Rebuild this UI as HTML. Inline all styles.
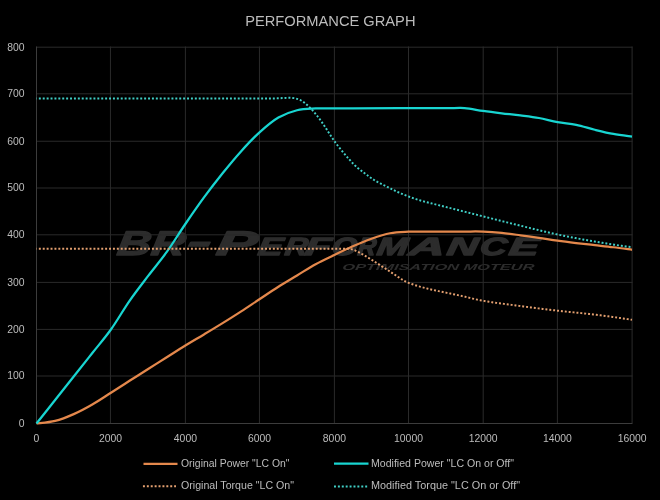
<!DOCTYPE html>
<html><head><meta charset="utf-8"><style>
html,body{margin:0;padding:0;background:#000;width:660px;height:500px;overflow:hidden}
svg{display:block;font-family:"Liberation Sans", sans-serif;will-change:transform}
</style></head><body>
<svg width="660" height="500" viewBox="0 0 660 500">
<rect width="660" height="500" fill="#000"/>
<text x="245.2" y="25.9" font-size="15.2" fill="#bcbcbc" textLength="170.3" lengthAdjust="spacingAndGlyphs">PERFORMANCE GRAPH</text>
<g fill="#2c2c2c" stroke="#2c2c2c" stroke-width="1.3" stroke-linejoin="round" font-weight="bold" font-style="italic" transform="translate(0,255.2) skewX(-8) translate(0,-255.2)">
<text x="116" y="255.2" font-size="34.3" textLength="34" lengthAdjust="spacingAndGlyphs">B</text>
<text x="150" y="255.2" font-size="34.3" textLength="34" lengthAdjust="spacingAndGlyphs">R</text>
<text x="186" y="253.3" font-size="34.3" textLength="24" lengthAdjust="spacingAndGlyphs">-</text>
<text x="215" y="255.2" font-size="34.3" textLength="41" lengthAdjust="spacingAndGlyphs">P</text>
<text x="257" y="255.2" font-size="25" textLength="25" lengthAdjust="spacingAndGlyphs">E</text>
<text x="284" y="255.2" font-size="25" textLength="23" lengthAdjust="spacingAndGlyphs">R</text>
<text x="304" y="255.2" font-size="25" textLength="26" lengthAdjust="spacingAndGlyphs">F</text>
<text x="331" y="255.2" font-size="25" textLength="25" lengthAdjust="spacingAndGlyphs">O</text>
<text x="357" y="255.2" font-size="25" textLength="18" lengthAdjust="spacingAndGlyphs">R</text>
<text x="376" y="255.2" font-size="25" textLength="31" lengthAdjust="spacingAndGlyphs">M</text>
<text x="408" y="255.2" font-size="25" textLength="36" lengthAdjust="spacingAndGlyphs">A</text>
<text x="446" y="255.2" font-size="25" textLength="31" lengthAdjust="spacingAndGlyphs">N</text>
<text x="479" y="255.2" font-size="25" textLength="27" lengthAdjust="spacingAndGlyphs">C</text>
<text x="508" y="255.2" font-size="25" textLength="30" lengthAdjust="spacingAndGlyphs">E</text>
<text x="344" y="269.8" font-size="8.6" stroke-width="0" textLength="192" lengthAdjust="spacingAndGlyphs">OPTIMISATION MOTEUR</text>
</g>
<line x1="36" x2="632.5" y1="376.00" y2="376.00" stroke="#2a2a2a" stroke-width="1"/>
<line x1="36" x2="632.5" y1="329.40" y2="329.40" stroke="#2a2a2a" stroke-width="1"/>
<line x1="36" x2="632.5" y1="282.40" y2="282.40" stroke="#2a2a2a" stroke-width="1"/>
<line x1="36" x2="632.5" y1="234.80" y2="234.80" stroke="#2a2a2a" stroke-width="1"/>
<line x1="36" x2="632.5" y1="188.00" y2="188.00" stroke="#2a2a2a" stroke-width="1"/>
<line x1="36" x2="632.5" y1="141.25" y2="141.25" stroke="#2a2a2a" stroke-width="1"/>
<line x1="36" x2="632.5" y1="93.80" y2="93.80" stroke="#2a2a2a" stroke-width="1"/>
<line x1="36" x2="632.5" y1="47.20" y2="47.20" stroke="#2a2a2a" stroke-width="1"/>
<line x1="110.45" x2="110.45" y1="46.5" y2="423" stroke="#2a2a2a" stroke-width="1"/>
<line x1="185.40" x2="185.40" y1="46.5" y2="423" stroke="#2a2a2a" stroke-width="1"/>
<line x1="259.44" x2="259.44" y1="46.5" y2="423" stroke="#2a2a2a" stroke-width="1"/>
<line x1="334.40" x2="334.40" y1="46.5" y2="423" stroke="#2a2a2a" stroke-width="1"/>
<line x1="408.50" x2="408.50" y1="46.5" y2="423" stroke="#2a2a2a" stroke-width="1"/>
<line x1="483.20" x2="483.20" y1="46.5" y2="423" stroke="#2a2a2a" stroke-width="1"/>
<line x1="557.40" x2="557.40" y1="46.5" y2="423" stroke="#2a2a2a" stroke-width="1"/>
<line x1="632.10" x2="632.10" y1="46.5" y2="423" stroke="#2a2a2a" stroke-width="1"/>
<line x1="36.5" x2="36.5" y1="46.5" y2="424" stroke="#3c3c3c" stroke-width="1"/>
<line x1="36" x2="632.5" y1="423.5" y2="423.5" stroke="#3c3c3c" stroke-width="1"/>
<text x="24.5" y="426.80" text-anchor="end" font-size="10.4" fill="#bcbcbc">0</text>
<text x="24.5" y="379.40" text-anchor="end" font-size="10.4" fill="#bcbcbc">100</text>
<text x="24.5" y="332.80" text-anchor="end" font-size="10.4" fill="#bcbcbc">200</text>
<text x="24.5" y="285.80" text-anchor="end" font-size="10.4" fill="#bcbcbc">300</text>
<text x="24.5" y="238.20" text-anchor="end" font-size="10.4" fill="#bcbcbc">400</text>
<text x="24.5" y="191.40" text-anchor="end" font-size="10.4" fill="#bcbcbc">500</text>
<text x="24.5" y="144.65" text-anchor="end" font-size="10.4" fill="#bcbcbc">600</text>
<text x="24.5" y="97.20" text-anchor="end" font-size="10.4" fill="#bcbcbc">700</text>
<text x="24.5" y="50.60" text-anchor="end" font-size="10.4" fill="#bcbcbc">800</text>
<text x="36.50" y="442" text-anchor="middle" font-size="10.4" fill="#bcbcbc">0</text>
<text x="110.45" y="442" text-anchor="middle" font-size="10.4" fill="#bcbcbc">2000</text>
<text x="185.40" y="442" text-anchor="middle" font-size="10.4" fill="#bcbcbc">4000</text>
<text x="259.44" y="442" text-anchor="middle" font-size="10.4" fill="#bcbcbc">6000</text>
<text x="334.40" y="442" text-anchor="middle" font-size="10.4" fill="#bcbcbc">8000</text>
<text x="408.50" y="442" text-anchor="middle" font-size="10.4" fill="#bcbcbc">10000</text>
<text x="483.20" y="442" text-anchor="middle" font-size="10.4" fill="#bcbcbc">12000</text>
<text x="557.40" y="442" text-anchor="middle" font-size="10.4" fill="#bcbcbc">14000</text>
<text x="632.10" y="442" text-anchor="middle" font-size="10.4" fill="#bcbcbc">16000</text>
<path d="M36.50,423.50 C39.60,423.07 48.91,422.48 55.11,420.92 C61.31,419.35 67.52,416.84 73.72,414.10 C79.92,411.36 86.12,408.03 92.33,404.46 C98.53,400.90 104.73,396.66 110.94,392.72 C117.14,388.77 123.34,384.78 129.55,380.82 C135.75,376.87 141.95,372.91 148.16,368.98 C154.36,365.05 160.56,361.15 166.77,357.23 C172.97,353.31 179.17,349.28 185.38,345.48 C191.58,341.68 197.78,338.16 203.98,334.44 C210.19,330.71 216.39,326.99 222.59,323.15 C228.80,319.32 235.00,315.44 241.20,311.40 C247.41,307.37 253.61,303.06 259.81,298.95 C266.02,294.84 272.22,290.65 278.42,286.73 C284.62,282.81 290.83,279.21 297.03,275.45 C303.23,271.69 309.44,267.58 315.64,264.17 C321.84,260.76 328.05,257.98 334.25,255.00 C340.45,252.03 346.66,249.03 352.86,246.31 C359.06,243.59 365.27,240.87 371.47,238.70 C377.67,236.52 383.88,234.40 390.08,233.24 C396.28,232.08 402.48,232.03 408.69,231.74 C414.89,231.45 421.09,231.54 427.30,231.51 C433.50,231.47 439.70,231.54 445.91,231.55 C452.11,231.56 458.31,231.54 464.52,231.55 C470.72,231.56 476.92,231.37 483.12,231.60 C489.33,231.83 495.53,232.30 501.73,232.92 C507.94,233.53 514.14,234.44 520.34,235.27 C526.55,236.09 532.75,236.95 538.95,237.85 C545.16,238.75 551.36,239.81 557.56,240.67 C563.77,241.53 569.97,242.28 576.17,243.02 C582.38,243.76 588.58,244.43 594.78,245.14 C600.98,245.84 607.19,246.47 613.39,247.25 C619.59,248.03 628.90,249.37 632.00,249.79" fill="none" stroke="#e4884c" stroke-width="2.25" stroke-linejoin="round"/>
<path d="M36.50,423.50 C39.60,419.58 48.91,407.83 55.11,400.00 C61.31,392.17 67.52,384.33 73.72,376.50 C79.92,368.67 86.12,360.83 92.33,353.00 C98.53,345.17 104.73,338.19 110.94,329.50 C117.14,320.81 123.34,309.76 129.55,300.83 C135.75,291.90 141.95,284.07 148.16,275.92 C154.36,267.77 160.56,260.61 166.77,251.95 C172.97,243.29 179.17,233.07 185.38,223.99 C191.58,214.90 197.78,205.89 203.98,197.43 C210.19,188.97 216.39,180.94 222.59,173.23 C228.80,165.51 235.00,157.99 241.20,151.13 C247.41,144.28 253.61,137.70 259.81,132.10 C266.02,126.50 272.22,121.17 278.42,117.53 C284.62,113.89 290.83,111.76 297.03,110.25 C303.23,108.73 309.44,108.78 315.64,108.46 C321.84,108.14 328.05,108.35 334.25,108.32 C340.45,108.29 334.25,108.30 352.86,108.27 C371.47,108.24 427.30,108.15 445.91,108.13 C464.52,108.11 458.31,107.66 464.52,108.13 C470.72,108.60 476.92,110.09 483.12,110.95 C489.33,111.81 495.53,112.56 501.73,113.30 C507.94,114.04 514.14,114.63 520.34,115.42 C526.55,116.20 532.75,116.86 538.95,118.00 C545.16,119.14 551.36,121.09 557.56,122.23 C563.77,123.37 569.97,123.56 576.17,124.81 C582.38,126.07 588.58,128.22 594.78,129.75 C600.98,131.28 607.19,132.84 613.39,133.98 C619.59,135.12 628.90,136.13 632.00,136.56" fill="none" stroke="#18d5d1" stroke-width="2.25" stroke-linejoin="round"/>
<path d="M36.50,248.66 L37.99,248.66 L39.48,248.66 L40.97,248.66 L42.45,248.66 L43.94,248.66 L45.43,248.66 L46.92,248.66 L48.41,248.66 L49.90,248.66 L51.39,248.66 L52.88,248.66 L54.36,248.66 L55.85,248.66 L57.34,248.66 L58.83,248.66 L60.32,248.66 L61.81,248.66 L63.30,248.66 L64.79,248.66 L66.28,248.66 L67.76,248.66 L69.25,248.66 L70.74,248.66 L72.23,248.66 L73.72,248.66 L75.21,248.66 L76.70,248.66 L78.19,248.66 L79.67,248.66 L81.16,248.66 L82.65,248.66 L84.14,248.66 L85.63,248.66 L87.12,248.66 L88.61,248.66 L90.09,248.66 L91.58,248.66 L93.07,248.66 L94.56,248.66 L96.05,248.66 L97.54,248.66 L99.03,248.66 L100.52,248.66 L102.00,248.66 L103.49,248.66 L104.98,248.66 L106.47,248.66 L107.96,248.66 L109.45,248.66 L110.94,248.66 L112.43,248.66 L113.92,248.66 L115.40,248.66 L116.89,248.66 L118.38,248.66 L119.87,248.66 L121.36,248.66 L122.85,248.66 L124.34,248.66 L125.83,248.66 L127.31,248.66 L128.80,248.66 L130.29,248.66 L131.78,248.66 L133.27,248.66 L134.76,248.66 L136.25,248.66 L137.74,248.66 L139.22,248.66 L140.71,248.66 L142.20,248.66 L143.69,248.66 L145.18,248.66 L146.67,248.66 L148.16,248.66 L149.64,248.66 L151.13,248.66 L152.62,248.66 L154.11,248.66 L155.60,248.66 L157.09,248.66 L158.58,248.66 L160.07,248.66 L161.56,248.66 L163.04,248.66 L164.53,248.66 L166.02,248.66 L167.51,248.66 L169.00,248.66 L170.49,248.66 L171.98,248.66 L173.47,248.66 L174.95,248.66 L176.44,248.66 L177.93,248.66 L179.42,248.66 L180.91,248.66 L182.40,248.66 L183.89,248.66 L185.38,248.66 L186.86,248.66 L188.35,248.66 L189.84,248.66 L191.33,248.66 L192.82,248.66 L194.31,248.66 L195.80,248.66 L197.28,248.66 L198.77,248.66 L200.26,248.66 L201.75,248.66 L203.24,248.66 L204.73,248.66 L206.22,248.66 L207.71,248.66 L209.19,248.66 L210.68,248.66 L212.17,248.66 L213.66,248.66 L215.15,248.66 L216.64,248.66 L218.13,248.66 L219.62,248.66 L221.10,248.66 L222.59,248.66 L224.08,248.66 L225.57,248.66 L227.06,248.66 L228.55,248.66 L230.04,248.66 L231.53,248.66 L233.01,248.66 L234.50,248.66 L235.99,248.66 L237.48,248.66 L238.97,248.66 L240.46,248.66 L241.95,248.66 L243.44,248.66 L244.93,248.66 L246.41,248.66 L247.90,248.66 L249.39,248.66 L250.88,248.66 L252.37,248.66 L253.86,248.66 L255.35,248.66 L256.84,248.66 L258.32,248.66 L259.81,248.66 L261.30,248.66 L262.79,248.66 L264.28,248.66 L265.77,248.66 L267.26,248.66 L268.75,248.66 L270.23,248.66 L271.72,248.66 L273.21,248.66 L274.70,248.66 L276.19,248.66 L277.68,248.66 L279.17,248.66 L280.65,248.66 L282.14,248.66 L283.63,248.66 L285.12,248.66 L286.61,248.66 L288.10,248.66 L289.59,248.66 L291.08,248.66 L292.56,248.66 L294.05,248.66 L295.54,248.66 L297.03,248.66 L298.52,248.66 L300.01,248.66 L301.50,248.66 L302.99,248.66 L304.48,248.66 L305.96,248.66 L307.45,248.66 L308.94,248.66 L310.43,248.66 L311.92,248.66 L313.41,248.66 L314.90,248.66 L316.38,248.66 L317.87,248.66 L319.36,248.66 L320.85,248.66 L322.34,248.66 L323.83,248.66 L325.32,248.66 L326.81,248.66 L328.30,248.66 L329.78,248.66 L331.27,248.66 L332.76,248.66 L334.25,248.66 L335.74,248.66 L337.23,248.66 L338.72,248.66 L340.20,248.66 L341.69,248.66 L343.18,248.67 L344.67,248.68 L346.16,248.71 L347.65,248.77 L349.14,248.88 L350.63,249.08 L352.12,249.40 L353.60,249.87 L355.09,250.47 L356.58,251.16 L358.07,251.90 L359.56,252.68 L361.05,253.49 L362.54,254.32 L364.02,255.17 L365.51,256.05 L367.00,256.95 L368.49,257.85 L369.98,258.76 L371.47,259.68 L372.96,260.61 L374.45,261.55 L375.94,262.50 L377.42,263.46 L378.91,264.42 L380.40,265.39 L381.89,266.35 L383.38,267.31 L384.87,268.28 L386.36,269.24 L387.85,270.20 L389.33,271.16 L390.82,272.13 L392.31,273.10 L393.80,274.07 L395.29,275.06 L396.78,276.07 L398.27,277.07 L399.75,278.07 L401.24,279.04 L402.73,279.95 L404.22,280.79 L405.71,281.55 L407.20,282.24 L408.69,282.87 L410.18,283.46 L411.67,284.02 L413.15,284.54 L414.64,285.04 L416.13,285.52 L417.62,285.98 L419.11,286.42 L420.60,286.85 L422.09,287.26 L423.57,287.66 L425.06,288.05 L426.55,288.42 L428.04,288.78 L429.53,289.13 L431.02,289.47 L432.51,289.80 L434.00,290.13 L435.49,290.45 L436.97,290.77 L438.46,291.09 L439.95,291.41 L441.44,291.73 L442.93,292.04 L444.42,292.35 L445.91,292.66 L447.39,292.97 L448.88,293.27 L450.37,293.57 L451.86,293.87 L453.35,294.18 L454.84,294.48 L456.33,294.80 L457.82,295.11 L459.31,295.44 L460.79,295.77 L462.28,296.11 L463.77,296.46 L465.26,296.82 L466.75,297.17 L468.24,297.53 L469.73,297.89 L471.21,298.25 L472.70,298.60 L474.19,298.95 L475.68,299.29 L477.17,299.62 L478.66,299.94 L480.15,300.24 L481.64,300.53 L483.12,300.81 L484.61,301.07 L486.10,301.33 L487.59,301.57 L489.08,301.81 L490.57,302.04 L492.06,302.26 L493.55,302.48 L495.04,302.69 L496.52,302.90 L498.01,303.10 L499.50,303.31 L500.99,303.51 L502.48,303.71 L503.97,303.90 L505.46,304.10 L506.94,304.30 L508.43,304.50 L509.92,304.70 L511.41,304.90 L512.90,305.10 L514.39,305.30 L515.88,305.50 L517.37,305.69 L518.86,305.89 L520.34,306.09 L521.83,306.28 L523.32,306.48 L524.81,306.67 L526.30,306.86 L527.79,307.05 L529.28,307.24 L530.76,307.43 L532.25,307.62 L533.74,307.81 L535.23,308.00 L536.72,308.18 L538.21,308.37 L539.70,308.55 L541.19,308.73 L542.67,308.91 L544.16,309.09 L545.65,309.27 L547.14,309.45 L548.63,309.63 L550.12,309.81 L551.61,309.98 L553.10,310.16 L554.59,310.33 L556.07,310.50 L557.56,310.67 L559.05,310.84 L560.54,311.00 L562.03,311.17 L563.52,311.33 L565.01,311.48 L566.50,311.64 L567.98,311.79 L569.47,311.94 L570.96,312.09 L572.45,312.24 L573.94,312.39 L575.43,312.54 L576.92,312.69 L578.40,312.84 L579.89,312.99 L581.38,313.14 L582.87,313.29 L584.36,313.45 L585.85,313.60 L587.34,313.76 L588.83,313.92 L590.32,314.09 L591.80,314.26 L593.29,314.43 L594.78,314.60 L596.27,314.78 L597.76,314.96 L599.25,315.15 L600.74,315.34 L602.23,315.53 L603.71,315.72 L605.20,315.91 L606.69,316.11 L608.18,316.31 L609.67,316.52 L611.16,316.72 L612.65,316.93 L614.13,317.14 L615.62,317.35 L617.11,317.56 L618.60,317.78 L620.09,318.00 L621.58,318.22 L623.07,318.44 L624.56,318.67 L626.04,318.89 L627.53,319.12 L629.02,319.35 L630.51,319.59 L632.00,319.82" fill="none" stroke="#e4a070" stroke-width="1.95" stroke-dasharray="1.95 1.95" stroke-dashoffset="1.55"/>
<path d="M36.50,98.49 L37.99,98.49 L39.48,98.49 L40.97,98.49 L42.45,98.49 L43.94,98.49 L45.43,98.49 L46.92,98.49 L48.41,98.49 L49.90,98.49 L51.39,98.49 L52.88,98.49 L54.36,98.49 L55.85,98.49 L57.34,98.49 L58.83,98.49 L60.32,98.49 L61.81,98.49 L63.30,98.49 L64.79,98.49 L66.28,98.49 L67.76,98.49 L69.25,98.49 L70.74,98.49 L72.23,98.49 L73.72,98.49 L75.21,98.49 L76.70,98.49 L78.19,98.49 L79.67,98.49 L81.16,98.49 L82.65,98.49 L84.14,98.49 L85.63,98.49 L87.12,98.49 L88.61,98.49 L90.09,98.49 L91.58,98.49 L93.07,98.49 L94.56,98.49 L96.05,98.49 L97.54,98.49 L99.03,98.49 L100.52,98.49 L102.00,98.49 L103.49,98.49 L104.98,98.49 L106.47,98.49 L107.96,98.49 L109.45,98.49 L110.94,98.49 L112.43,98.49 L113.92,98.49 L115.40,98.49 L116.89,98.49 L118.38,98.49 L119.87,98.49 L121.36,98.49 L122.85,98.49 L124.34,98.49 L125.83,98.49 L127.31,98.49 L128.80,98.49 L130.29,98.49 L131.78,98.49 L133.27,98.49 L134.76,98.49 L136.25,98.49 L137.74,98.49 L139.22,98.49 L140.71,98.49 L142.20,98.49 L143.69,98.49 L145.18,98.49 L146.67,98.49 L148.16,98.49 L149.64,98.49 L151.13,98.49 L152.62,98.49 L154.11,98.49 L155.60,98.49 L157.09,98.49 L158.58,98.49 L160.07,98.49 L161.56,98.49 L163.04,98.49 L164.53,98.49 L166.02,98.49 L167.51,98.49 L169.00,98.49 L170.49,98.49 L171.98,98.49 L173.47,98.49 L174.95,98.49 L176.44,98.49 L177.93,98.49 L179.42,98.49 L180.91,98.49 L182.40,98.49 L183.89,98.49 L185.38,98.49 L186.86,98.49 L188.35,98.49 L189.84,98.49 L191.33,98.49 L192.82,98.49 L194.31,98.49 L195.80,98.49 L197.28,98.49 L198.77,98.49 L200.26,98.49 L201.75,98.49 L203.24,98.49 L204.73,98.49 L206.22,98.49 L207.71,98.49 L209.19,98.49 L210.68,98.49 L212.17,98.49 L213.66,98.49 L215.15,98.49 L216.64,98.49 L218.13,98.49 L219.62,98.49 L221.10,98.49 L222.59,98.49 L224.08,98.49 L225.57,98.49 L227.06,98.49 L228.55,98.49 L230.04,98.49 L231.53,98.49 L233.01,98.49 L234.50,98.49 L235.99,98.49 L237.48,98.49 L238.97,98.49 L240.46,98.49 L241.95,98.49 L243.44,98.49 L244.93,98.49 L246.41,98.49 L247.90,98.49 L249.39,98.49 L250.88,98.49 L252.37,98.49 L253.86,98.49 L255.35,98.49 L256.84,98.49 L258.32,98.49 L259.81,98.49 L261.30,98.49 L262.79,98.49 L264.28,98.49 L265.77,98.49 L267.26,98.49 L268.75,98.49 L270.23,98.48 L271.72,98.47 L273.21,98.45 L274.70,98.42 L276.19,98.37 L277.68,98.32 L279.17,98.25 L280.65,98.17 L282.14,98.09 L283.63,98.00 L285.12,97.92 L286.61,97.85 L288.10,97.81 L289.59,97.81 L291.08,97.85 L292.56,97.96 L294.05,98.15 L295.54,98.43 L297.03,98.82 L298.52,99.33 L300.01,99.97 L301.50,100.75 L302.99,101.67 L304.48,102.73 L305.96,103.92 L307.45,105.22 L308.94,106.62 L310.43,108.11 L311.92,109.69 L313.41,111.34 L314.90,113.06 L316.38,114.87 L317.87,116.75 L319.36,118.70 L320.85,120.74 L322.34,122.85 L323.83,125.04 L325.32,127.29 L326.81,129.60 L328.30,131.93 L329.78,134.26 L331.27,136.55 L332.76,138.78 L334.25,140.94 L335.74,143.00 L337.23,144.98 L338.72,146.88 L340.20,148.72 L341.69,150.53 L343.18,152.30 L344.67,154.07 L346.16,155.82 L347.65,157.56 L349.14,159.28 L350.63,160.96 L352.12,162.58 L353.60,164.12 L355.09,165.57 L356.58,166.93 L358.07,168.21 L359.56,169.41 L361.05,170.57 L362.54,171.70 L364.02,172.82 L365.51,173.94 L367.00,175.06 L368.49,176.17 L369.98,177.25 L371.47,178.29 L372.96,179.28 L374.45,180.21 L375.94,181.09 L377.42,181.92 L378.91,182.71 L380.40,183.47 L381.89,184.22 L383.38,184.96 L384.87,185.71 L386.36,186.46 L387.85,187.21 L389.33,187.97 L390.82,188.72 L392.31,189.46 L393.80,190.19 L395.29,190.90 L396.78,191.59 L398.27,192.26 L399.75,192.92 L401.24,193.56 L402.73,194.18 L404.22,194.79 L405.71,195.38 L407.20,195.97 L408.69,196.53 L410.18,197.09 L411.67,197.63 L413.15,198.15 L414.64,198.66 L416.13,199.15 L417.62,199.62 L419.11,200.08 L420.60,200.53 L422.09,200.95 L423.57,201.37 L425.06,201.77 L426.55,202.16 L428.04,202.54 L429.53,202.92 L431.02,203.29 L432.51,203.66 L434.00,204.03 L435.49,204.40 L436.97,204.77 L438.46,205.14 L439.95,205.51 L441.44,205.89 L442.93,206.26 L444.42,206.63 L445.91,207.00 L447.39,207.38 L448.88,207.75 L450.37,208.12 L451.86,208.49 L453.35,208.87 L454.84,209.24 L456.33,209.61 L457.82,209.98 L459.31,210.36 L460.79,210.73 L462.28,211.11 L463.77,211.48 L465.26,211.86 L466.75,212.23 L468.24,212.60 L469.73,212.98 L471.21,213.35 L472.70,213.73 L474.19,214.10 L475.68,214.48 L477.17,214.85 L478.66,215.23 L480.15,215.60 L481.64,215.98 L483.12,216.35 L484.61,216.73 L486.10,217.11 L487.59,217.48 L489.08,217.86 L490.57,218.23 L492.06,218.61 L493.55,218.99 L495.04,219.37 L496.52,219.74 L498.01,220.12 L499.50,220.49 L500.99,220.87 L502.48,221.24 L503.97,221.62 L505.46,221.99 L506.94,222.36 L508.43,222.73 L509.92,223.10 L511.41,223.47 L512.90,223.84 L514.39,224.21 L515.88,224.58 L517.37,224.94 L518.86,225.31 L520.34,225.68 L521.83,226.04 L523.32,226.40 L524.81,226.77 L526.30,227.13 L527.79,227.49 L529.28,227.85 L530.76,228.21 L532.25,228.57 L533.74,228.93 L535.23,229.29 L536.72,229.65 L538.21,230.00 L539.70,230.36 L541.19,230.72 L542.67,231.07 L544.16,231.43 L545.65,231.78 L547.14,232.13 L548.63,232.48 L550.12,232.83 L551.61,233.17 L553.10,233.51 L554.59,233.84 L556.07,234.17 L557.56,234.49 L559.05,234.81 L560.54,235.12 L562.03,235.43 L563.52,235.74 L565.01,236.04 L566.50,236.34 L567.98,236.64 L569.47,236.93 L570.96,237.22 L572.45,237.51 L573.94,237.79 L575.43,238.08 L576.92,238.36 L578.40,238.63 L579.89,238.91 L581.38,239.18 L582.87,239.46 L584.36,239.73 L585.85,239.99 L587.34,240.26 L588.83,240.52 L590.32,240.79 L591.80,241.05 L593.29,241.30 L594.78,241.56 L596.27,241.81 L597.76,242.07 L599.25,242.32 L600.74,242.56 L602.23,242.81 L603.71,243.05 L605.20,243.29 L606.69,243.53 L608.18,243.76 L609.67,244.00 L611.16,244.23 L612.65,244.46 L614.13,244.68 L615.62,244.91 L617.11,245.13 L618.60,245.35 L620.09,245.57 L621.58,245.79 L623.07,246.00 L624.56,246.21 L626.04,246.42 L627.53,246.63 L629.02,246.84 L630.51,247.04 L632.00,247.25" fill="none" stroke="#40cfc6" stroke-width="1.95" stroke-dasharray="1.95 1.95" stroke-dashoffset="1.55"/>
<line x1="143.5" x2="177.5" y1="463.8" y2="463.8" stroke="#e4884c" stroke-width="2.25"/>
<text x="181" y="467.3" font-size="11" fill="#bcbcbc" textLength="108.5" lengthAdjust="spacingAndGlyphs">Original Power "LC On"</text>
<line x1="142.95" x2="176" y1="486.3" y2="486.3" stroke="#e4a070" stroke-width="1.95" stroke-dasharray="1.95 1.95"/>
<text x="181" y="489.3" font-size="11" fill="#bcbcbc" textLength="113" lengthAdjust="spacingAndGlyphs">Original Torque "LC On"</text>
<line x1="334" x2="368.5" y1="463.5" y2="463.5" stroke="#18d5d1" stroke-width="2.25"/>
<text x="371" y="467.3" font-size="11" fill="#bcbcbc" textLength="143" lengthAdjust="spacingAndGlyphs">Modified Power "LC On or Off"</text>
<line x1="334" x2="368.5" y1="486.5" y2="486.5" stroke="#40cfc6" stroke-width="1.95" stroke-dasharray="1.95 1.95"/>
<text x="371" y="489.3" font-size="11" fill="#bcbcbc" textLength="149" lengthAdjust="spacingAndGlyphs">Modified Torque "LC On or Off"</text>
</svg></body></html>
